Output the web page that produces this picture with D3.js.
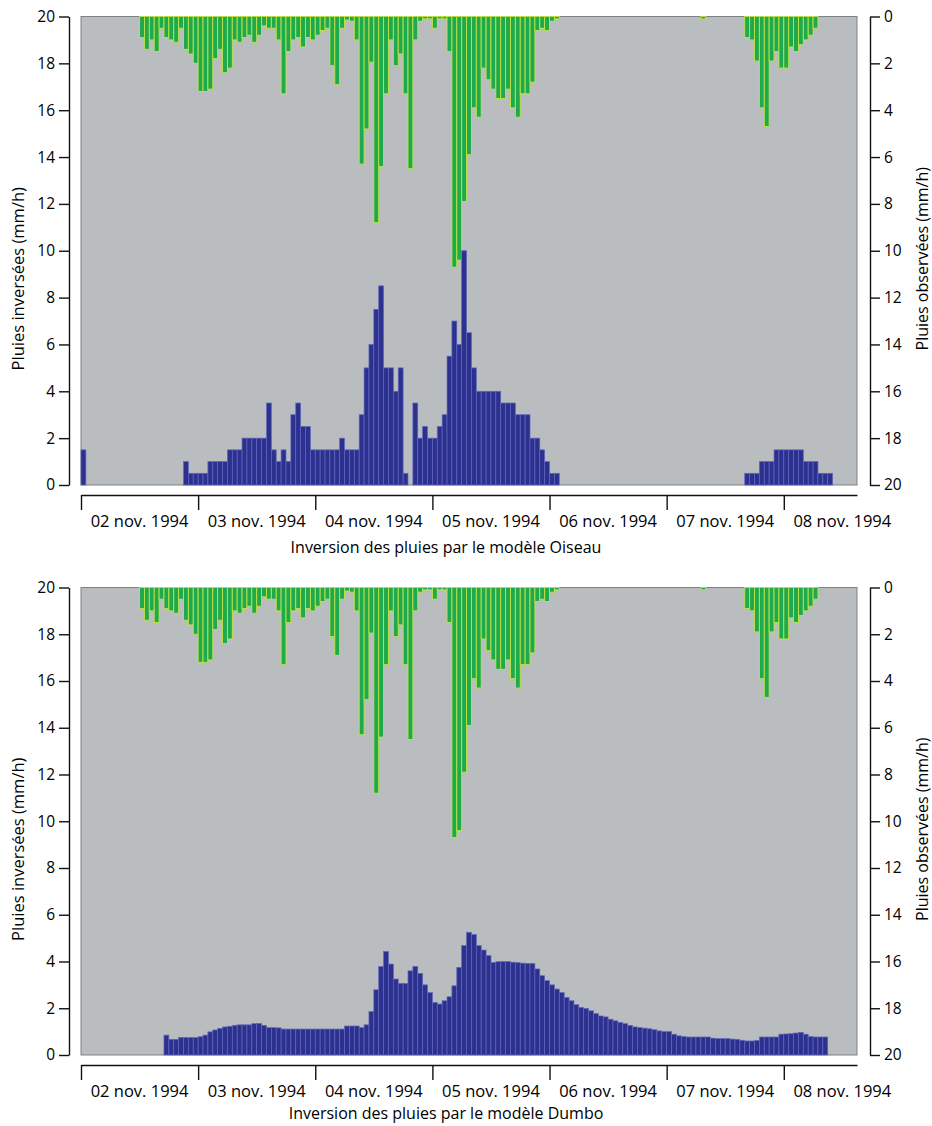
<!DOCTYPE html>
<html><head><meta charset="utf-8">
<script src="https://cdn.jsdelivr.net/npm/d3@7"></script>
<style>
body{margin:0;background:#fff}
svg{display:block}
text{font-family:"Open Sans",sans-serif;fill:#000}
</style>
</head><body>
<svg id="c" width="932" height="1126"></svg>
<script>
// ---------- data ----------
const startUTC = Date.UTC(1994, 10, 2, 0);   // 02 nov. 1994 00:00, hourly steps
const nHours = 159;
const dayLabels = ["02 nov. 1994","03 nov. 1994","04 nov. 1994","05 nov. 1994","06 nov. 1994","07 nov. 1994","08 nov. 1994"];
const leftTicks = [0,2,4,6,8,10,12,14,16,18,20];
const rightTicks = [0,2,4,6,8,10,12,14,16,18,20];
const leftTitle = "Pluies inversées (mm/h)";
const rightTitle = "Pluies observées (mm/h)";
const panelTitles = ["Inversion des pluies par le modèle Oiseau","Inversion des pluies par le modèle Dumbo"];

// observed rainfall (mm/h), starting at hour 0
const observed = [
 0,0,0,0,0,0,0,0,0,0,0,0,
 0.9,1.4,1.0,1.5,0.5,0.9,1.0,1.1,0.5,1.4,1.6,2.0,          // h12-23
 3.2,3.2,3.1,1.8,1.4,2.4,2.2,1.0,1.1,0.9,0.8,1.1,          // h24-35
 0.8,0.4,0.5,0.5,1.0,3.3,1.5,1.0,0.9,1.3,0.9,1.0,          // h36-47
 0.8,0.6,0.5,2.1,2.9,0.5,0.15,0.2,1.0,6.3,4.8,1.95,        // h48-59
 8.8,6.4,3.3,1.0,2.1,1.6,3.3,6.5,1.0,0.2,0.1,0.1,          // h60-71
 0.5,0.1,0.1,1.5,10.7,10.4,7.9,5.9,3.9,4.3,2.2,2.7,        // h72-83
 3.1,3.5,3.5,3.1,3.9,4.3,3.3,3.3,2.8,0.6,0.5,0.6,          // h84-95
 0.2,0.1,0,0,0,0,0,0,0,0,0,0,                              // h96-107
 0,0,0,0,0,0,0,0,0,0,0,0,                                  // h108-119
 0,0,0,0,0,0,0,0.1,0,0,0,0,                                // h120-131
 0,0,0,0,0.9,1.0,1.9,3.9,4.7,1.9,1.5,2.2,                  // h132-143
 2.2,1.3,1.5,1.2,1.0,0.8,0.5                               // h144-150
];

// rainfall inverted by model Oiseau (mm/h), starting at hour 0
const oiseau = [
 1.5,0,0,0,0,0,0,0,0,0,0,0,
 0,0,0,0,0,0,0,0,0,1,0.5,0.5,                              // h12-23
 0.5,0.5,1,1,1,1,1.5,1.5,1.5,2,2,2,                        // h24-35
 2,2,3.5,1.5,1,1.5,1,3,3.5,2.5,2.5,1.5,                    // h36-47
 1.5,1.5,1.5,1.5,1.5,2,1.5,1.5,1.5,3,5,6,                  // h48-59
 7.5,8.5,5,5,4,5,0.5,0,3.5,2,2.5,2,                        // h60-71
 2,2.5,3,5.5,7,6,10,6.5,5,4,4,4,                           // h72-83
 4,4,3.5,3.5,3.5,3,3,3,2,2,1.5,1,                          // h84-95
 0.5,0.5,0,0,0,0,0,0,0,0,0,0,                              // h96-107
 0,0,0,0,0,0,0,0,0,0,0,0,                                  // h108-119
 0,0,0,0,0,0,0,0,0,0,0,0,                                  // h120-131
 0,0,0,0,0.5,0.5,0.5,1,1,1,1.5,1.5,                        // h132-143
 1.5,1.5,1.5,1.5,1,1,1,0.5,0.5,0.5                         // h144-153
];

// rainfall inverted by model Dumbo (mm/h), starting at hour 17
const dumboStart = 17;
const dumbo = [
 0.85,0.67,0.67,0.75,0.75,0.75,0.75,                       // h17-23
 0.78,0.85,0.99,1.07,1.14,1.2,1.23,1.27,1.29,1.29,1.29,1.34, // h24-35
 1.35,1.27,1.17,1.17,1.16,1.11,1.11,1.11,1.11,1.11,1.11,1.11, // h36-47
 1.11,1.11,1.11,1.11,1.11,1.11,1.24,1.24,1.24,1.17,1.29,1.86, // h48-59
 2.79,3.78,4.43,3.89,3.25,3.06,3.06,3.6,3.79,3.49,3.0,2.67,  // h60-71
 2.25,2.18,2.32,2.49,2.96,3.75,4.68,5.25,5.15,4.68,4.49,4.25, // h72-83
 3.96,3.99,4.0,4.0,3.97,3.95,3.93,3.92,3.92,3.68,3.39,3.18,  // h84-95
 3.0,2.82,2.67,2.46,2.32,2.15,2.03,1.99,1.89,1.77,1.67,1.63, // h96-107
 1.53,1.46,1.39,1.34,1.27,1.2,1.17,1.15,1.12,1.08,1.03,1.0,  // h108-119
 1.0,0.89,0.82,0.79,0.77,0.77,0.77,0.77,0.77,0.72,0.7,0.7,   // h120-131
 0.7,0.68,0.67,0.63,0.6,0.6,0.62,0.77,0.77,0.77,0.77,0.89,   // h132-143
 0.9,0.91,0.94,0.97,0.89,0.79,0.77,0.77,0.77                 // h144-152
];

// ---------- drawing ----------
const svg = d3.select("#c");
const hourMs = 3600e3;
const x = d3.scaleUtc()
  .domain([new Date(startUTC), new Date(startUTC + nHours*hourMs)])
  .range([81, 857]);
const tOf = h => new Date(startUTC + h*hourMs);

function panel(top, bottom, model, modelStart, title, titleOffset){
  const g = svg.append("g");
  const yL = d3.scaleLinear().domain([0,20]).range([bottom, top]);
  const yR = d3.scaleLinear().domain([0,20]).range([top, bottom]);

  g.append("rect").attr("x", x.range()[0]).attr("y", top)
    .attr("width", x.range()[1]-x.range()[0]).attr("height", bottom-top)
    .attr("fill", "#babdc0").attr("stroke", "#7e8184").attr("stroke-width", 1);

  const obs = observed.map((v,i)=>({h:i, v})).filter(d=>d.v>0);
  g.append("g").selectAll("rect").data(obs).join("rect")
    .attr("x", d=>x(tOf(d.h)))
    .attr("width", d=>x(tOf(d.h+1))-x(tOf(d.h)))
    .attr("y", yR(0))
    .attr("height", d=>yR(d.v)-yR(0))
    .attr("fill", "#1faa4e").attr("stroke", "#bfe34a").attr("stroke-width", 0.9);

  const mod = model.map((v,i)=>({h:i+modelStart, v})).filter(d=>d.v>0);
  g.append("g").selectAll("rect").data(mod).join("rect")
    .attr("x", d=>x(tOf(d.h)))
    .attr("width", d=>x(tOf(d.h+1))-x(tOf(d.h)))
    .attr("y", d=>yL(d.v))
    .attr("height", d=>yL(0)-yL(d.v))
    .attr("fill", "#2c3190").attr("stroke", "#6266bd").attr("stroke-width", 0.7);

  // left axis
  const la = g.append("g").attr("transform", "translate(69,0)")
    .call(d3.axisLeft(yL).tickValues(leftTicks).tickSize(10).tickSizeOuter(0).tickPadding(4));
  // right axis
  const ra = g.append("g").attr("transform", "translate(870,0)")
    .call(d3.axisRight(yR).tickValues(rightTicks).tickSize(10).tickSizeOuter(0).tickPadding(4));
  // bottom axis
  const ba = g.append("g").attr("transform", `translate(0,${bottom+10})`)
    .call(d3.axisBottom(x).ticks(d3.utcDay.every(1)).tickSize(15).tickSizeOuter(0).tickFormat(""));
  [la, ra, ba].forEach(a=>{
    a.selectAll("path,line").attr("stroke", "#111").attr("stroke-width", 1.4);
    a.selectAll("text").style("font-family", '"Open Sans",sans-serif').style("font-size", "15.5px").attr("fill", "#000");
  });

  g.append("g").selectAll("text").data(dayLabels).join("text")
    .attr("x", (d,i)=>x(tOf(i*24+12)))
    .attr("y", bottom+42)
    .attr("text-anchor", "middle")
    .style("font-size", "16.5px")
    .text(d=>d);

  g.append("text").attr("x", 446).attr("y", bottom+titleOffset)
    .attr("text-anchor", "middle").style("font-size", "16px").text(title);

  g.append("text").attr("transform", `translate(24,${(top+bottom)/2+28}) rotate(-90)`)
    .attr("text-anchor", "middle").style("font-size", "16.5px").text(leftTitle);
  g.append("text").attr("transform", `translate(928,${(top+bottom)/2+8}) rotate(-90)`)
    .attr("text-anchor", "middle").style("font-size", "16px").text(rightTitle);
}

panel(16.5, 485, oiseau, 0, panelTitles[0], 68);
panel(587.5, 1055, dumbo, dumboStart, panelTitles[1], 64);
</script>
</body></html>
